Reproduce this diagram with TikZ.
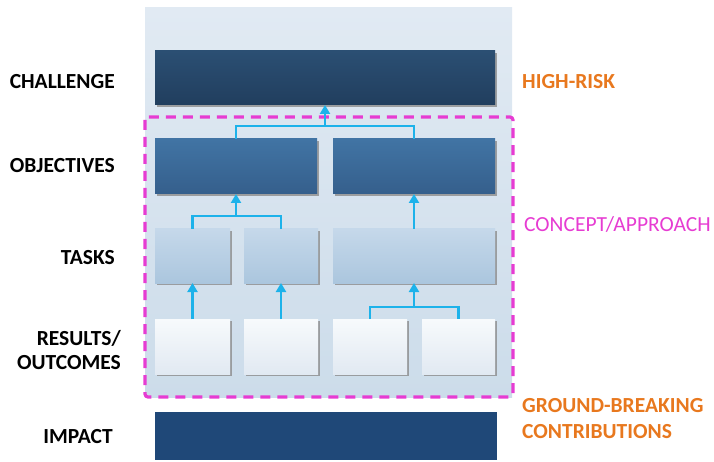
\documentclass[tikz,border=0pt]{standalone}
\usepackage{fontspec}
\setmainfont{Carlito}
\usetikzlibrary{arrows.meta,shadows}
\definecolor{panelTop}{HTML}{E1EAF3}
\definecolor{panelBot}{HTML}{CCDCEA}
\definecolor{chalTop}{HTML}{2B4F73}
\definecolor{chalBot}{HTML}{213E5E}
\definecolor{objTop}{HTML}{4174A4}
\definecolor{objBot}{HTML}{355F8C}
\definecolor{taskTop}{HTML}{C5D8EA}
\definecolor{taskBot}{HTML}{ABC6DE}
\definecolor{resTop}{HTML}{F7FAFC}
\definecolor{resBot}{HTML}{E1E9F2}
\definecolor{impCol}{HTML}{1F4878}
\definecolor{connCol}{HTML}{1DB2EA}
\definecolor{magCol}{HTML}{E63CD2}
\definecolor{orgCol}{HTML}{E8781E}
\tikzset{
  x=1pt, y=-1pt,
  blk/.style={rectangle, inner sep=0pt, outer sep=0pt,
    drop shadow={shadow xshift=2pt, shadow yshift=-2pt, fill=black!45, opacity=0.8}},
  chal/.style={blk, top color=chalTop, bottom color=chalBot},
  obj/.style={blk, top color=objTop, bottom color=objBot},
  task/.style={blk, top color=taskTop, bottom color=taskBot},
  res/.style={blk, top color=resTop, bottom color=resBot},
  conn/.style={draw=connCol, line width=2.4pt},
  connarr/.style={conn, -{Triangle[width=10pt,length=9pt]}},
  lefttxt/.style={font=\bfseries\fontsize{21.5}{24}\selectfont, text=black, anchor=east, align=right, inner sep=0pt},
  righttxt/.style={font=\bfseries\fontsize{21.5}{26}\selectfont, text=orgCol, anchor=west, align=left, inner sep=0pt},
}
\begin{document}
\begin{tikzpicture}
\useasboundingbox (0,0) rectangle (714,462);
% panel
\fill[top color=panelTop, bottom color=panelBot] (145,8) rectangle (512,397);
% boxes
\node[chal, minimum width=340pt, minimum height=54pt] (C) at (325,78) {};
\node[obj, minimum width=162pt, minimum height=55pt] (O1) at (236,166.5) {};
\node[obj, minimum width=162pt, minimum height=55pt] (O2) at (414,166.5) {};
\node[task, minimum width=75pt, minimum height=54pt] (T1) at (192.5,256) {};
\node[task, minimum width=74pt, minimum height=54pt] (T2) at (281,256) {};
\node[task, minimum width=162pt, minimum height=54pt] (T3) at (414,256) {};
\node[res, minimum width=75pt, minimum height=55pt] (R1) at (192.5,346.5) {};
\node[res, minimum width=74pt, minimum height=55pt] (R2) at (281,346.5) {};
\node[res, minimum width=74pt, minimum height=55pt] (R3) at (370,346.5) {};
\node[res, minimum width=73pt, minimum height=55pt] (R4) at (458.5,346.5) {};
\node[rectangle, inner sep=0pt, fill=impCol, minimum width=342pt, minimum height=48pt] (I) at (326,436) {};
% dashed frame
\draw[magCol, line width=3.2pt, dash pattern=on 10pt off 7pt, rounded corners=3pt] (145,117) rectangle (513,397);
% connectors
\coordinate (j1) at (325,126);
\draw[conn] (O1.north) -- (O1.north |- j1) -- (O2.north |- j1) -- (O2.north);
\draw[connarr] (j1) -- (C.south);
\coordinate (j2) at (236,216);
\draw[conn] (T1.north) -- (T1.north |- j2) -- (T2.north |- j2) -- (T2.north);
\draw[connarr] (j2) -- (O1.south);
\draw[connarr] (T3.north) -- (O2.south);
\draw[connarr] (R1.north) -- (T1.south);
\draw[connarr] (R2.north) -- (T2.south);
\coordinate (j3) at (414,307);
\draw[conn] (R3.north) -- (R3.north |- j3) -- (R4.north |- j3) -- (R4.north);
\draw[connarr] (j3) -- (T3.south);
% left labels
\node[lefttxt] (lC) at (115,82) {CHALLENGE};
\node[lefttxt] (lO) at (115,166) {OBJECTIVES};
\node[lefttxt] (lT) at (115,258) {TASKS};
\node[lefttxt] (lR) at (121,350) {RESULTS/\\OUTCOMES};
\node[lefttxt] (lI) at (113,437) {IMPACT};
% right labels
\node[righttxt] (rH) at (522,82) {HIGH-RISK};
\node[anchor=west, inner sep=0pt, text=magCol, font=\fontsize{21.5}{24}\selectfont] (rC) at (524,224) {CONCEPT/APPROACH};
\node[righttxt] (rG) at (522,419) {GROUND-BREAKING\\CONTRIBUTIONS};
\end{tikzpicture}
\end{document}
